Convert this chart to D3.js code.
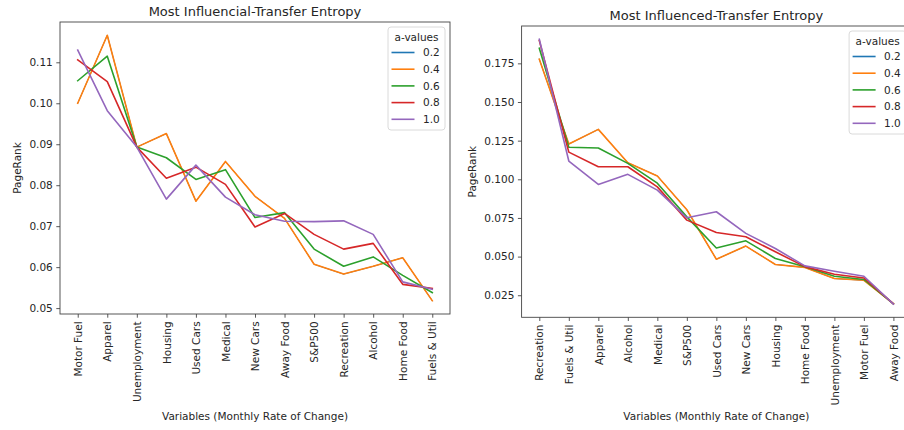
<!DOCTYPE html>
<html>
<head>
<meta charset="utf-8">
<script src="https://cdn.jsdelivr.net/npm/d3@7/dist/d3.min.js"></script>
<style>
  body { margin: 0; background: #fff; }
  svg { display: block; font-family: "DejaVu Sans", sans-serif; }
</style>
</head>
<body>
<svg id="chart" width="904" height="430"></svg>
<script>
// values

const A_VALUES = ["0.2", "0.4", "0.6", "0.8", "1.0"];
const COLORS = ["#1f77b4", "#ff7f0e", "#2ca02c", "#d62728", "#9467bd"];

// left plot: Most Influencial
const LEFT_CATS = ["Motor Fuel", "Apparel", "Unemployment", "Housing", "Used Cars", "Medical",
  "New Cars", "Away Food", "S&P500", "Recreation", "Alcohol", "Home Food", "Fuels & Util"];
const LEFT_02 = [0.1000, 0.1166, 0.0893, 0.0926, 0.0761, 0.0858, 0.0773, 0.0719, 0.0607, 0.0583, 0.0602, 0.0623, 0.0518];
const LEFT_04 = [0.1000, 0.1166, 0.0893, 0.0926, 0.0761, 0.0858, 0.0773, 0.0719, 0.0607, 0.0583, 0.0602, 0.0623, 0.0518];
const LEFT_06 = [0.1055, 0.1115, 0.0893, 0.0867, 0.0814, 0.0838, 0.0721, 0.0733, 0.0644, 0.0602, 0.0625, 0.0580, 0.0538];
const LEFT_08 = [0.1106, 0.1053, 0.0893, 0.0817, 0.0844, 0.0802, 0.0698, 0.0731, 0.0680, 0.0644, 0.0658, 0.0558, 0.0548];
const LEFT_10 = [0.1130, 0.0982, 0.0893, 0.0766, 0.0849, 0.0771, 0.0728, 0.0712, 0.0711, 0.0713, 0.0680, 0.0564, 0.0546];
const LEFT_TICKS = [0.05, 0.06, 0.07, 0.08, 0.09, 0.10, 0.11];

// right plot: Most Influenced
const RIGHT_CATS = ["Recreation", "Fuels & Util", "Apparel", "Alcohol", "Medical", "S&P500",
  "Used Cars", "New Cars", "Housing", "Home Food", "Unemployment", "Motor Fuel", "Away Food"];
const RIGHT_02 = [0.1777, 0.1228, 0.1323, 0.1107, 0.1022, 0.0803, 0.0483, 0.0568, 0.0449, 0.0430, 0.0358, 0.0347, 0.0196];
const RIGHT_04 = [0.1777, 0.1228, 0.1323, 0.1107, 0.1022, 0.0803, 0.0483, 0.0568, 0.0449, 0.0430, 0.0358, 0.0347, 0.0196];
const RIGHT_06 = [0.1848, 0.1207, 0.1202, 0.1103, 0.0975, 0.0757, 0.0556, 0.0602, 0.0488, 0.0435, 0.0373, 0.0352, 0.0195];
const RIGHT_08 = [0.1897, 0.1176, 0.1081, 0.1081, 0.0951, 0.0736, 0.0656, 0.0628, 0.0531, 0.0435, 0.0386, 0.0362, 0.0194];
const RIGHT_10 = [0.1906, 0.1118, 0.0967, 0.1032, 0.0930, 0.0751, 0.0790, 0.0650, 0.0552, 0.0440, 0.0405, 0.0373, 0.0193];
const RIGHT_TICKS = [0.025, 0.050, 0.075, 0.100, 0.125, 0.150, 0.175];

const svg = d3.select("#chart");
const TEXT = "#262626";

function drawPanel(opts) {
    const { left, top, width, height, cats, series, ticks, fmt, title, titleY } = opts;
    const g = svg.append("g");

    // matplotlib style 5% padding on y
    const all = series.flat();
    const lo = d3.min(all), hi = d3.max(all);
    const pad = (hi - lo) * 0.05;

    const x = d3.scalePoint().domain(cats).range([left, left + width]).padding(0.6);
    const y = d3.scaleLinear().domain([lo - pad, hi + pad]).range([top + height, top]);

    // lines (0.2 sits right under 0.4, keep it thin so no blue fringe shows)
    const line = d3.line().x((d, i) => x(cats[i])).y(d => y(d));
    series.forEach((s, k) => {
        g.append("path")
         .datum(s)
         .attr("d", line)
         .attr("fill", "none")
         .attr("stroke", COLORS[k])
         .attr("stroke-width", k == 0 ? 1.0 : 1.6)
         .attr("stroke-linejoin", "round")
         .attr("stroke-linecap", "square");
    });

    // frame
    g.append("rect")
     .attr("x", left).attr("y", top)
     .attr("width", width).attr("height", height)
     .attr("fill", "none")
     .attr("stroke", "#444")
     .attr("stroke-width", 0.9);

    // y axis
    const yAxis = g.append("g")
      .attr("transform", `translate(${left},0)`)
      .call(d3.axisLeft(y).tickValues(ticks).tickFormat(d3.format(fmt)).tickSize(3.7).tickPadding(3.5));
    yAxis.select(".domain").remove();
    yAxis.selectAll("line").attr("stroke", "#444").attr("stroke-width", 0.9);
    yAxis.selectAll("text").attr("fill", TEXT).style("font-size", "10.5px").style("font-family", "DejaVu Sans");

    // x axis, labels turned 90deg
    const xAxis = g.append("g")
      .attr("transform", `translate(0,${top + height})`)
      .call(d3.axisBottom(x).tickSize(3.7).tickPadding(0));
    xAxis.select(".domain").remove();
    xAxis.selectAll("line").attr("stroke", "#444").attr("stroke-width", 0.9);
    xAxis.selectAll("text")
      .attr("fill", TEXT)
      .style("font-size", "10.5px")
      .style("font-family", "DejaVu Sans")
      .attr("transform", "rotate(-90)")
      .attr("x", -7.4)
      .attr("y", 0)
      .attr("dy", "0.35em")
      .attr("text-anchor", "end");

    // titles
    g.append("text")
     .attr("x", left + width / 2).attr("y", titleY)
     .attr("text-anchor", "middle")
     .attr("fill", TEXT)
     .style("font-size", "13px")
     .text(title);

    g.append("text")
     .attr("x", left + width / 2).attr("y", 420)
     .attr("text-anchor", "middle")
     .attr("fill", TEXT)
     .style("font-size", "10.5px")
     .text("Variables (Monthly Rate of Change)");

    g.append("text")
     .attr("transform", `translate(${opts.ylabelX},${top + height / 2}) rotate(-90)`)
     .attr("text-anchor", "middle")
     .attr("fill", TEXT)
     .style("font-size", "10.5px")
     .text("PageRank");

    // legend, upper right
    const lw = 57, lh = 103;
    const lx = left + width - 5 - lw, ly = top + 5;
    const leg = g.append("g").attr("transform", `translate(${lx},${ly})`);
    leg.append("rect")
       .attr("width", lw).attr("height", lh)
       .attr("rx", 3)
       .attr("fill", "#fff").attr("fill-opacity", 0.8)
       .attr("stroke", "#d6d6d6").attr("stroke-width", 0.9);
    leg.append("text")
       .attr("x", lw / 2).attr("y", 13.5)
       .attr("text-anchor", "middle")
       .attr("fill", TEXT)
       .style("font-size", "10.5px")
       .text("a-values");
    A_VALUES.forEach((a, k) => {
        const yy = 25.5 + k * 16.7;
        leg.append("line")
           .attr("x1", 3.5).attr("x2", 26.5)
           .attr("y1", yy).attr("y2", yy)
           .attr("stroke", COLORS[k]).attr("stroke-width", 1.6);
        leg.append("text")
           .attr("x", 35).attr("y", yy + 3.8)
           .attr("fill", TEXT)
           .style("font-size", "10.5px")
           .text(a);
    });
}

drawPanel({
    left: 60, top: 22, width: 390, height: 292,
    cats: LEFT_CATS,
    series: [LEFT_02, LEFT_04, LEFT_06, LEFT_08, LEFT_10],
    ticks: LEFT_TICKS, fmt: ".2f",
    title: "Most Influencial-Transfer Entropy", titleY: 15.5,
    ylabelX: 20.5
});

drawPanel({
    left: 521.6, top: 26, width: 389.5, height: 291.3,
    cats: RIGHT_CATS,
    series: [RIGHT_02, RIGHT_04, RIGHT_06, RIGHT_08, RIGHT_10],
    ticks: RIGHT_TICKS, fmt: ".3f",
    title: "Most Influenced-Transfer Entropy", titleY: 20,
    ylabelX: 475.5
});
</script>
</body>
</html>
